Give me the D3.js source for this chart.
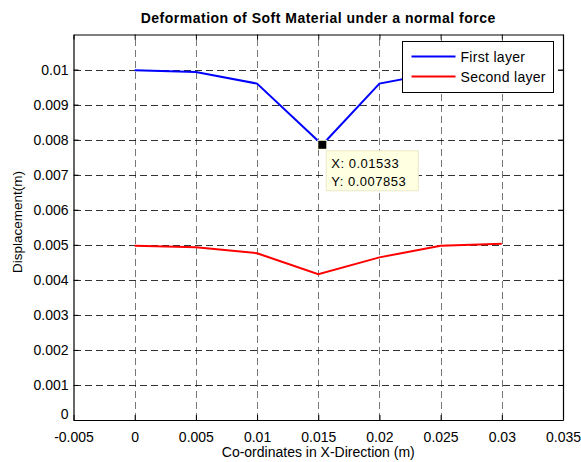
<!DOCTYPE html>
<html lang="en">
  <head>
    <meta charset="utf-8" />
    <script src="https://d3js.org/d3.v7.min.js"></script>
    <title>Deformation of Soft Material under a normal force</title>
    <style>
      body { margin: 0; background: #fff; }
      text { font-family: Arial, "Liberation Sans", sans-serif; fill: #000; }
    </style>
  </head>
  <body>
    <svg id="chart" width="581" height="462"></svg>
    <script>
    // data
    var firstX = [0, 0.005, 0.01, 0.01533, 0.02, 0.025, 0.03];
    var firstY = [0.00998, 0.00993, 0.0096, 0.007853, 0.0096, 0.00993, 0.00998];
    var secondX = [0, 0.005, 0.01, 0.015, 0.02, 0.025, 0.03];
    var secondY = [0.00497, 0.00493, 0.00476, 0.00416, 0.00464, 0.00497, 0.00503];
    var xTicks = [-0.005, 0, 0.005, 0.01, 0.015, 0.02, 0.025, 0.03, 0.035];
    var yTicks = [0, 0.001, 0.002, 0.003, 0.004, 0.005, 0.006, 0.007, 0.008, 0.009, 0.01];
    var seriesNames = ["First layer", "Second layer"];
    var seriesColors = ["#0000ff", "#ff0000"];
    var tipIndex = 3;

    var svg = d3.select("#chart");
    var margin = {left: 73.5, right: 18, top: 34.5, bottom: 42};
    var width = 581, height = 462;

    var x = d3.scaleLinear().domain([-0.005, 0.035]).range([margin.left, width - margin.right]);
    var y = d3.scaleLinear().domain([0, 0.011]).range([height - margin.bottom, margin.top]);

    var fmt = function(d) { return d === 0 ? "0" : String(+d.toFixed(3)); };

    // plot background
    svg.append("rect")
      .attr("x", x(-0.005)).attr("y", y(0.011))
      .attr("width", x(0.035) - x(-0.005)).attr("height", y(0) - y(0.011))
      .attr("fill", "#fff");

    // grid
    var grid = svg.append("g").attr("stroke", "#000").attr("stroke-width", 0.8)
      .attr("stroke-dasharray", "7,4").attr("shape-rendering", "crispEdges");
    grid.selectAll(".gx").data(xTicks.slice(1, -1)).enter().append("line")
      .attr("x1", d => Math.round(x(d)) + 0.5).attr("x2", d => Math.round(x(d)) + 0.5)
      .attr("y1", y(0)).attr("y2", y(0.011))
      .attr("stroke", "#555");
    grid.selectAll(".gy").data(yTicks.slice(1)).enter().append("line")
      .attr("y1", d => Math.round(y(d)) + 0.5).attr("y2", d => Math.round(y(d)) + 0.5)
      .attr("x1", x(-0.005)).attr("x2", x(0.035));

    // axes (ticks inward, box)
    var xAxis = svg.append("g").attr("transform", "translate(0," + y(0) + ")")
      .call(d3.axisBottom(x).tickValues(xTicks).tickFormat(fmt).tickSizeInner(-5).tickSizeOuter(0).tickPadding(12));
    var xAxisTop = svg.append("g").attr("transform", "translate(0," + y(0.011) + ")")
      .call(d3.axisTop(x).tickValues(xTicks).tickFormat("").tickSizeInner(-5).tickSizeOuter(0));
    var yAxis = svg.append("g").attr("transform", "translate(" + x(-0.005) + ",0)")
      .call(d3.axisLeft(y).tickValues(yTicks).tickFormat(fmt).tickSizeInner(-5).tickSizeOuter(0).tickPadding(5));
    var yAxisRight = svg.append("g").attr("transform", "translate(" + x(0.035) + ",0)")
      .call(d3.axisRight(y).tickValues(yTicks).tickFormat("").tickSizeInner(-5).tickSizeOuter(0));
    [xAxis, xAxisTop, yAxis, yAxisRight].forEach(function(a) {
      a.selectAll("text").style("font-size", "14px").attr("fill", "#000");
      a.selectAll("line").attr("stroke", "#000");
      a.select(".domain").attr("stroke", "#000").attr("stroke-width", 1.2);
    });
    // the "0" on y axis sits a little high in the reference
    yAxis.selectAll(".tick").filter(d => d === 0).select("text").attr("dy", "-0.1em");

    // lines
    var line = d3.line().x(d => x(d[0])).y(d => y(d[1]));
    var series = [d3.zip(firstX, firstY), d3.zip(secondX, secondY)];
    svg.selectAll(".series").data(series).enter().append("path")
      .attr("d", line).attr("fill", "none")
      .attr("stroke", (d, i) => seriesColors[i]).attr("stroke-width", 2);

    // data tip
    var tx = x(firstX[tipIndex]), ty = y(firstY[tipIndex]);
    svg.append("rect").attr("x", tx - 5).attr("y", ty - 5).attr("width", 10).attr("height", 10)
      .attr("fill", "#ffffe1");
    svg.append("rect").attr("x", tx - 4).attr("y", ty - 4).attr("width", 8).attr("height", 8)
      .attr("fill", "#000");
    var tip = svg.append("g").attr("transform", "translate(" + (tx + 4) + "," + (ty + 6) + ")");
    tip.append("rect").attr("width", 92).attr("height", 40)
      .attr("fill", "#ffffe1").attr("stroke", "#e8e8c8").attr("stroke-width", 1);
    tip.selectAll(".tiptext").data(["X: " + firstX[tipIndex], "Y: " + firstY[tipIndex]]).enter()
      .append("text").attr("x", 5).attr("y", (d, i) => 17 + i * 18)
      .style("font-size", "13px").style("letter-spacing", "0.5px")
      .text(d => d);

    // legend
    var lg = svg.append("g").attr("transform", "translate(402.5,41.5)");
    lg.append("rect").attr("width", 151).attr("height", 51)
      .attr("fill", "#fff").attr("stroke", "#000").attr("stroke-width", 1);
    seriesNames.forEach(function(n, i) {
      lg.append("line").attr("x1", 9).attr("x2", 53).attr("y1", 15 + i * 20).attr("y2", 15 + i * 20)
        .attr("stroke", seriesColors[i]).attr("stroke-width", 2);
      lg.append("text").attr("x", 58).attr("y", 20 + i * 20).style("font-size", "14px")
        .style("letter-spacing", "0.3px").text(n);
    });

    // title and labels
    svg.append("text").attr("x", (x(-0.005) + x(0.035)) / 2).attr("y", 23)
      .attr("text-anchor", "middle").style("font-size", "14px").style("font-weight", "bold")
      .style("letter-spacing", "0.5px")
      .text("Deformation of Soft Material under a normal force");
    svg.append("text").attr("x", (x(-0.005) + x(0.035)) / 2).attr("y", 457)
      .attr("text-anchor", "middle").style("font-size", "14px")
      .text("Co-ordinates in X-Direction (m)");
    svg.append("text").attr("transform", "translate(22,222) rotate(-90)")
      .attr("text-anchor", "middle").style("font-size", "13.5px")
      .text("Displacement(m)");
    </script>
  </body>
</html>
